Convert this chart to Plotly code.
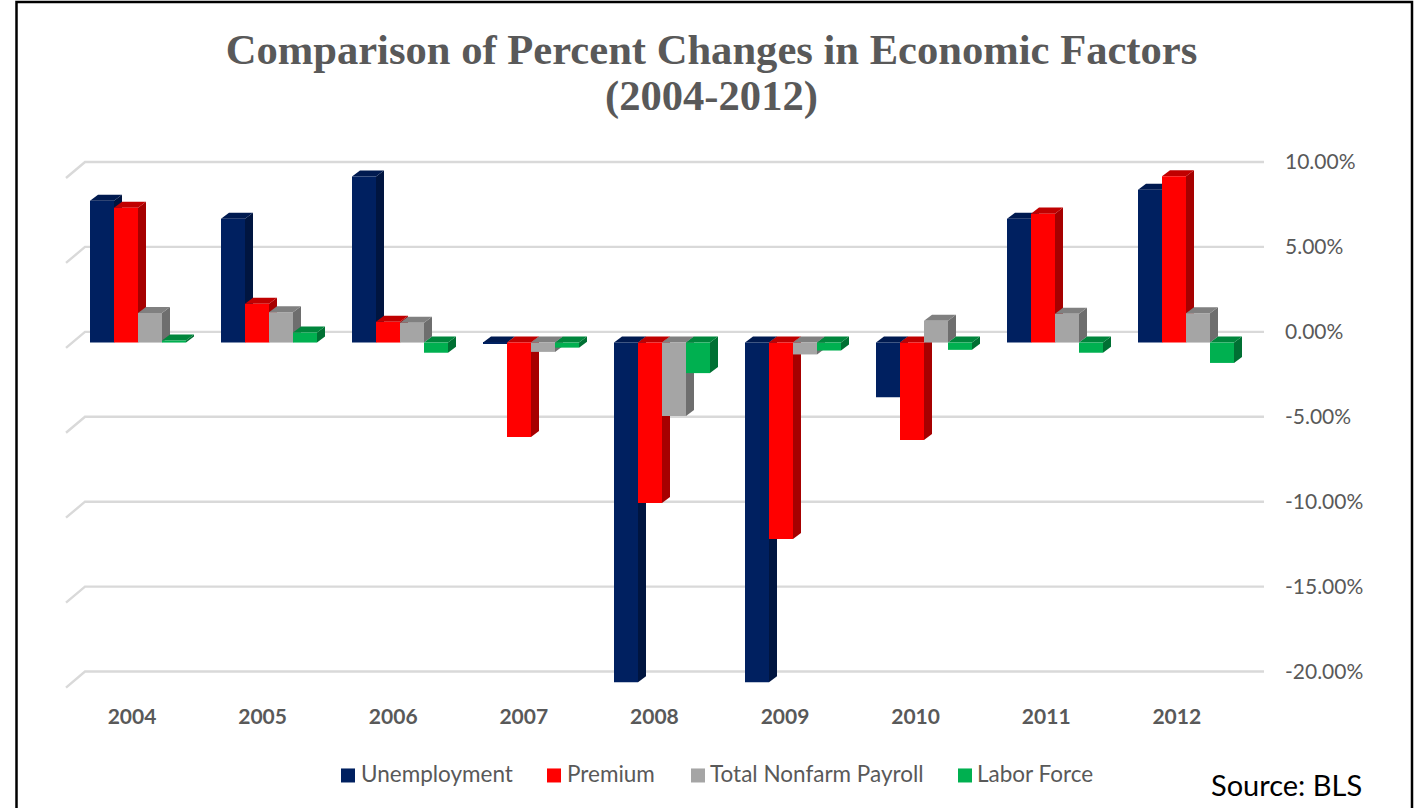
import plotly.graph_objects as go

# Percent changes per year, one list per series
years = ["2004", "2005", "2006", "2007", "2008", "2009", "2010", "2011", "2012"]
unemployment = [8.35, 7.29, 9.77, -0.05, -20.0, -20.0, -3.22, 7.29, 9.0]
premium = [7.94, 2.28, 1.22, -5.56, -9.45, -11.57, -5.74, 7.59, 9.79]
payroll = [1.74, 1.79, 1.16, -0.55, -4.32, -0.7, 1.28, 1.69, 1.73]
labor_force = [0.12, 0.59, -0.6, -0.3, -1.8, -0.47, -0.43, -0.6, -1.2]
y_ticks = [10, 5, 0, -5, -10, -15, -20]

series = [
    ("Unemployment", unemployment, "#002060", "#001540", "#001A50"),
    ("Premium", premium, "#FF0000", "#A60000", "#C00000"),
    ("Total Nonfarm Payroll", payroll, "#A5A5A5", "#6E6E6E", "#808080"),
    ("Labor Force", labor_force, "#00B050", "#007033", "#00863C"),
]

# Pixel scale of the plot area
FIG_W, FIG_H = 1415, 808
PX_PER_UNIT_Y = 16.96
PX_PER_UNIT_X = 131.0
PLOT_LEFT, PLOT_RIGHT = 60, 1264
Y_RANGE = [-21.5, 11]
ZERO_PX = 332.0
FIRST_GROUP_PX = 138.0
PLOT_TOP = ZERO_PX - PX_PER_UNIT_Y * Y_RANGE[1]
PLOT_BOTTOM = ZERO_PX - PX_PER_UNIT_Y * Y_RANGE[0]

# Pseudo-3D geometry in axis units
BAR_WIDTH = 24 / PX_PER_UNIT_X
DEPTH_X = 8 / PX_PER_UNIT_X
DEPTH_Y = 6 / PX_PER_UNIT_Y
FRONT_SHIFT = -10.7 / PX_PER_UNIT_Y
FLOOR_X = 19 / PX_PER_UNIT_X
FLOOR_Y = 16 / PX_PER_UNIT_Y
LABEL_SHIFT = -6 / PX_PER_UNIT_X
LABEL_STEP = 130.6 / PX_PER_UNIT_X

x_range = [(PLOT_LEFT - FIRST_GROUP_PX) / PX_PER_UNIT_X, (PLOT_RIGHT - FIRST_GROUP_PX) / PX_PER_UNIT_X]
wall_left = (85 - FIRST_GROUP_PX) / PX_PER_UNIT_X


def paper_x(px):
    return (px - PLOT_LEFT) / (PLOT_RIGHT - PLOT_LEFT)


def paper_y(px):
    return (PLOT_BOTTOM - px) / (PLOT_BOTTOM - PLOT_TOP)


fig = go.Figure()

# Back-wall gridlines with the short floor diagonal at their left end
grid_x, grid_y = [], []
for tick in y_ticks:
    grid_x += [wall_left - FLOOR_X, wall_left, x_range[1], None]
    grid_y += [tick - FLOOR_Y, tick, tick, None]
fig.add_trace(go.Scatter(x=grid_x, y=grid_y, mode="lines", showlegend=False, hoverinfo="skip",
                         line=dict(color="#D9D9D9", width=2.4)))


def polygons(point_lists):
    xs, ys = [], []
    for points in point_lists:
        for px, py in points + [points[0]]:
            xs.append(px)
            ys.append(py)
        xs.append(None)
        ys.append(None)
    return xs, ys


# Side and top faces sit underneath every front face
for s_idx, (name, values, front, side, top) in enumerate(series):
    side_polys, top_polys = [], []
    for i, v in enumerate(values):
        left = i + (s_idx - 2) * BAR_WIDTH
        right = left + BAR_WIDTH
        upper = max(v, 0) + FRONT_SHIFT
        lower = min(v, 0) + FRONT_SHIFT
        side_polys.append([(right, upper), (right + DEPTH_X, upper + DEPTH_Y),
                           (right + DEPTH_X, lower + DEPTH_Y), (right, lower)])
        top_polys.append([(left, upper), (left + DEPTH_X, upper + DEPTH_Y),
                          (right + DEPTH_X, upper + DEPTH_Y), (right, upper)])
    for polys, color in ((side_polys, side), (top_polys, top)):
        xs, ys = polygons(polys)
        fig.add_trace(go.Scatter(x=xs, y=ys, mode="lines", fill="toself", fillcolor=color,
                                 line=dict(width=0, color=color), showlegend=False, hoverinfo="skip"))

# Front faces live on an overlaid subplot so they stack above the faces
for name, values, front, side, top in series:
    fig.add_trace(go.Bar(x=list(range(len(years))), y=values, base=FRONT_SHIFT, name=name,
                         marker=dict(color=front, line=dict(width=0)),
                         xaxis="x2", yaxis="y2", showlegend=False))

LABEL_FONT = "Lato, Carlito, Calibri, sans-serif"
TITLE_FONT = dict(family="Liberation Serif, Times New Roman, serif", size=42.6,
                  color="#595959", weight="bold")

# Legend row: square swatch plus label for each series
LEGEND_SWATCH_PX = [341, 547, 691, 958]
LEGEND_TEXT_PX = [359, 565, 708, 975]
LEGEND_Y_PX = 775
SWATCH_SIZE_PX = 14

shapes = [dict(type="rect", xref="paper", yref="paper",
               x0=paper_x(16.5), x1=paper_x(1412), y0=paper_y(FIG_H + 20), y1=paper_y(2.7),
               line=dict(color="black", width=2.5), fillcolor="rgba(0,0,0,0)", layer="above")]
annotations = [
    dict(text="(2004-2012)", xref="paper", yref="paper", x=paper_x(711.5), y=paper_y(97),
         xanchor="center", yanchor="middle", showarrow=False, font=TITLE_FONT),
    dict(text="Source: BLS", xref="paper", yref="paper", x=paper_x(1286), y=paper_y(784),
         xanchor="center", yanchor="middle", showarrow=False,
         font=dict(family=LABEL_FONT, size=29, color="black")),
]
for (name, _, front, _, _), sw_px, tx_px in zip(series, LEGEND_SWATCH_PX, LEGEND_TEXT_PX):
    shapes.append(dict(type="rect", xref="paper", yref="paper", x0=paper_x(sw_px), x1=paper_x(sw_px + SWATCH_SIZE_PX),
                       y0=paper_y(LEGEND_Y_PX - SWATCH_SIZE_PX / 2), y1=paper_y(LEGEND_Y_PX + SWATCH_SIZE_PX / 2),
                       fillcolor=front, line=dict(width=0)))
    annotations.append(dict(text=name, xref="paper", yref="paper", x=paper_x(tx_px), y=paper_y(LEGEND_Y_PX - 2),
                            xanchor="left", yanchor="middle", showarrow=False,
                            font=dict(family=LABEL_FONT, size=22.5, color="#595959")))

fig.update_layout(
    width=FIG_W,
    height=FIG_H,
    autosize=False,
    showlegend=False,
    paper_bgcolor="white",
    plot_bgcolor="white",
    barmode="group",
    bargap=1 - 4 * BAR_WIDTH,
    bargroupgap=0,
    margin=dict(l=PLOT_LEFT, r=FIG_W - PLOT_RIGHT, t=PLOT_TOP, b=FIG_H - PLOT_BOTTOM, pad=0),
    title=dict(text="Comparison of Percent Changes in Economic Factors",
               x=711.5 / FIG_W, xanchor="center", y=1 - 49 / FIG_H, yanchor="middle",
               font=TITLE_FONT),
    xaxis=dict(range=x_range, showgrid=False, zeroline=False, showline=False, ticks="",
               tickmode="array", tickvals=[i * LABEL_STEP + LABEL_SHIFT for i in range(len(years))],
               ticktext=years, ticklabelstandoff=5,
               tickfont=dict(family=LABEL_FONT, size=21, color="#595959", weight="bold")),
    yaxis=dict(range=Y_RANGE, side="right", showgrid=False, zeroline=False, showline=False, ticks="",
               tickmode="array", tickvals=y_ticks, ticktext=[f"{t:.2f}%" for t in y_ticks],
               ticklabelstandoff=20,
               tickfont=dict(family=LABEL_FONT, size=21, color="#595959")),
    xaxis2=dict(matches="x", overlaying="x", visible=False),
    yaxis2=dict(matches="y", overlaying="y", visible=False),
    annotations=annotations,
    shapes=shapes,
)

fig.write_html("out.html")
